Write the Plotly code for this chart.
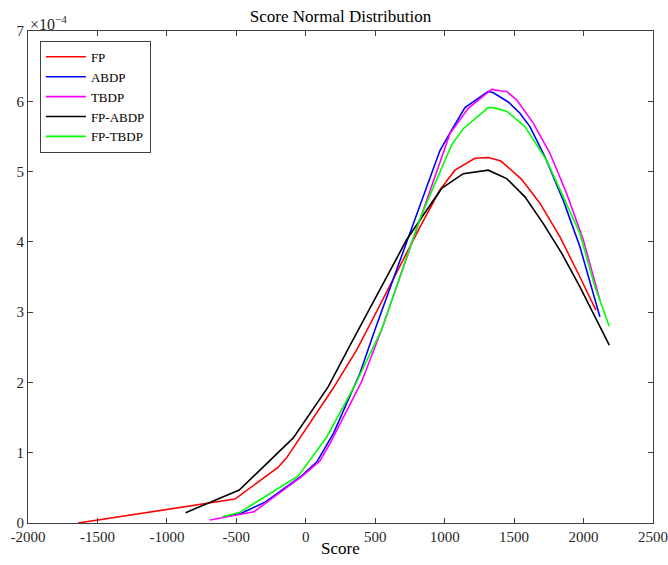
import plotly.graph_objects as go

# values in units of 1e-4
fp_x = [-1640, -510, -200, -137, 198, 366, 500, 650, 822, 966, 1074, 1218, 1314, 1405, 1554, 1686, 1830, 1974, 2089]
fp_y = [0.0, 0.34, 0.79, 0.93, 1.92, 2.46, 2.97, 3.55, 4.21, 4.74, 5.02, 5.19, 5.20, 5.15, 4.89, 4.55, 4.07, 3.50, 3.03]

abdp_x = [-598, -474, -290, -30, 80, 200, 390, 498, 762, 966, 1050, 1146, 1314, 1350, 1458, 1542, 1614, 1722, 1854, 1974, 2118]
abdp_y = [0.09, 0.13, 0.30, 0.67, 0.87, 1.28, 2.13, 2.75, 4.19, 5.30, 5.59, 5.91, 6.14, 6.12, 5.99, 5.83, 5.64, 5.21, 4.59, 3.93, 2.93]

tbdp_x = [-690, -373, -30, 100, 174, 318, 402, 546, 798, 1038, 1170, 1338, 1398, 1446, 1518, 1638, 1758, 1878, 1998, 2118]
tbdp_y = [0.043, 0.16, 0.66, 0.88, 1.13, 1.68, 2.01, 2.75, 4.17, 5.54, 5.90, 6.17, 6.15, 6.14, 6.02, 5.69, 5.26, 4.69, 4.03, 3.17]

fpabdp_x = [-865, -479, -90, 162, 306, 726, 870, 978, 1134, 1314, 1446, 1578, 1710, 1842, 1974, 2185]
fpabdp_y = [0.147, 0.47, 1.21, 1.94, 2.48, 4.03, 4.45, 4.76, 4.97, 5.02, 4.90, 4.64, 4.26, 3.84, 3.36, 2.53]

fptbdp_x = [-598, -474, -54, 150, 354, 546, 822, 1050, 1134, 1314, 1350, 1446, 1578, 1674, 1734, 1854, 1974, 2082, 2185]
fptbdp_y = [0.09, 0.152, 0.67, 1.22, 1.96, 2.75, 4.33, 5.38, 5.61, 5.91, 5.91, 5.86, 5.64, 5.35, 5.16, 4.64, 4.12, 3.36, 2.80]

series = [
    ("FP", fp_x, fp_y, "#FF0000"),
    ("ABDP", abdp_x, abdp_y, "#0000FF"),
    ("TBDP", tbdp_x, tbdp_y, "#FF00FF"),
    ("FP-ABDP", fpabdp_x, fpabdp_y, "#000000"),
    ("FP-TBDP", fptbdp_x, fptbdp_y, "#00FF00"),
]

x_ticks = [-2000, -1500, -1000, -500, 0, 500, 1000, 1500, 2000, 2500]
y_ticks = [0, 1, 2, 3, 4, 5, 6, 7]

FONT = "Liberation Serif"
AX = "#404040"

fig = go.Figure()
for name, xs, ys, col in series:
    fig.add_trace(go.Scatter(x=xs, y=[v * 1e-4 for v in ys], mode="lines", name=name,
                             line=dict(color=col, width=1.6)))

fig.update_layout(
    width=668, height=565,
    margin=dict(l=28, r=15, t=31, b=42, autoexpand=False),
    paper_bgcolor="white", plot_bgcolor="white",
    font=dict(family=FONT, size=15, color="#262626"),
    title=dict(text="Score Normal Distribution", x=(28 + 653) / 2 / 668, xanchor="center",
               y=1 - 16 / 565, yanchor="middle", font=dict(family=FONT, size=17, color="black")),
    showlegend=True,
    legend=dict(x=0.019, y=0.98, xanchor="left", yanchor="top",
                bordercolor=AX, borderwidth=1, bgcolor="white",
                font=dict(family=FONT, size=13, color="black"),
                tracegroupgap=0, itemwidth=40),
    xaxis=dict(range=[-2000, 2500], tickvals=x_ticks, ticktext=[str(t) for t in x_ticks],
               ticks="inside", ticklen=5, tickcolor=AX, showline=True, linecolor=AX, linewidth=1,
               mirror="ticks", showgrid=False, zeroline=False, automargin=False),
    yaxis=dict(range=[0, 7e-4], tickvals=[t * 1e-4 for t in y_ticks], ticktext=[str(t) for t in y_ticks],
               ticks="inside", ticklen=5, tickcolor=AX, showline=True, linecolor=AX, linewidth=1,
               mirror="ticks", showgrid=False, zeroline=False, automargin=False),
)

fig.add_annotation(text="Score", xref="paper", yref="paper", x=0.5, y=-25 / 492,
                   xanchor="center", yanchor="middle", showarrow=False,
                   font=dict(family=FONT, size=17, color="black"))

fig.add_annotation(text="×10<sup>−4</sup>", xref="paper", yref="paper", x=0, y=1,
                   xanchor="left", yanchor="bottom", showarrow=False,
                   font=dict(family=FONT, size=16, color="#262626"), xshift=0, yshift=-4)

fig.write_html("out.html")
